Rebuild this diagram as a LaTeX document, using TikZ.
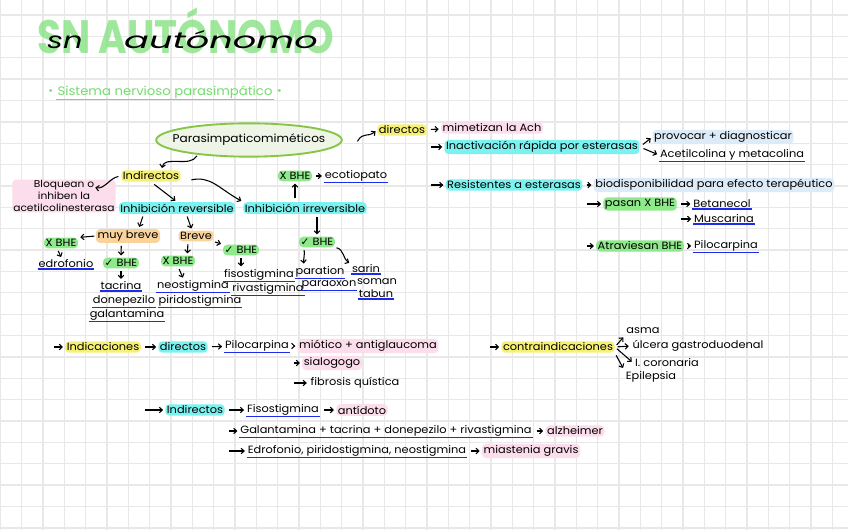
\documentclass[tikz,border=0pt]{standalone}
\usepackage{fontspec}
\setmainfont{Poppins}[FakeStretch=1.08]
\newfontfamily\symfont{DejaVu Sans}
\usepackage{xcolor}
\usetikzlibrary{arrows.meta,positioning,shapes.geometric}

\definecolor{gridgray}{HTML}{E8E8E8}
\definecolor{titlegreen}{HTML}{86E283}
\definecolor{subgreen}{HTML}{74DC6E}
\definecolor{ellborder}{HTML}{86C545}
\definecolor{ellfill}{HTML}{EEF4E6}
\definecolor{hlyellow}{HTML}{F6F174}
\definecolor{hlpink}{HTML}{FCDDEB}
\definecolor{hlcyan}{HTML}{7CF2F0}
\definecolor{hlgreen}{HTML}{8EE98A}
\definecolor{hlorange}{HTML}{F9D39A}
\definecolor{hlblue}{HTML}{DDEBF9}
\definecolor{ulblue}{HTML}{1E2BE8}

\begin{document}
\begin{tikzpicture}[
    x=0.75pt, y=-0.75pt,
    >={Straight Barb[length=2.2pt,width=4.2pt]},
    every node/.style={font=\fontsize{7.9}{9}\selectfont, inner sep=1.2pt},
    hy/.style={fill=hlyellow, rounded corners=3pt},
    hp/.style={fill=hlpink, rounded corners=3pt},
    hc/.style={fill=hlcyan, rounded corners=3pt},
    hg/.style={fill=hlgreen, rounded corners=3pt},
    ho/.style={fill=hlorange, rounded corners=3pt},
    hb/.style={fill=hlblue, rounded corners=3pt},
    ulline/.style={draw=ulblue, line width=1.1pt},
    ul/.style={inner sep=0.6pt, append after command={(\tikzlastnode.south west) edge[ulline] (\tikzlastnode.south east)}},
    arr/.style={->, line width=0.8pt, shorten <=3pt, shorten >=1.5pt},
    gridline/.style={draw=gridgray, line width=1pt}
]

% paper
\fill[white] (0,0) rectangle (848,530);
\useasboundingbox (0,0) rectangle (848,530);
\foreach \i in {0,...,39}
  \draw[gridline] ({0.4+21.33*\i},0) -- ({0.4+21.33*\i},530);
\foreach \j in {0,...,24}
  \draw[gridline] (0,{15+21.37*\j}) -- (848,{15+21.37*\j});

% title
\node[font=\fontsize{27}{27}\selectfont\bfseries, text=titlegreen, opacity=0.8,
yscale=1.3, transform shape] (titlebg) at (186,31) {SN AUTÓNOMO};
\node[font=\fontsize{17}{17}\selectfont\itshape, xscale=1.25, transform shape] (titlesn) at (65,42) {sn};
\node[font=\fontsize{17}{17}\selectfont\itshape, xscale=1.5, transform shape] (titleauto) at (221,40) {autónomo};

\node[font=\fontsize{9.2}{11}\selectfont, text=subgreen, inner sep=0.8pt,
append after command={(\tikzlastnode.south west) edge[draw=subgreen, line width=1pt] (\tikzlastnode.south east)}] (sub) at (165,92) {Sistema nervioso parasimpático};
\node[text=subgreen, left=1pt of sub] (subl) {•};
\node[text=subgreen, right=1pt of sub] (subr) {•};

% main concept
\node[ellipse, draw=ellborder, line width=1.4pt, fill=ellfill,
inner xsep=-8pt, inner ysep=1pt, minimum height=25pt,
font=\fontsize{8.4}{10}\selectfont] (parasim) at (249,140)
{Parasimpaticomiméticos};

% directos
\node[hy] (directos) at (402,130) {directos};
\node[hp] (mimet) at (492,128) {mimetizan la Ach};
\node[hc] (inact) at (542,147) {Inactivación rápida por esterasas};
\node[hb] (provo) at (723,137) {provocar + diagnosticar};
\node[ul] (acetil) at (732,155) {Acetilcolina y metacolina};
\node[hc] (resist) at (514,185) {Resistentes a esterasas};
\node[hb] (biodisp) at (714,185) {biodisponibilidad para efecto terapéutico};
\node[hg] (pasan) at (640,204) {pasan X BHE};
\node[ul] (betan) at (722,204) {Betanecol};
\node[ul] (musc) at (724,219) {Muscarina};
\node[hg] (atrav) at (640,246) {Atraviesan BHE};
\node[ul] (pilo) at (726,246) {Pilocarpina};

\draw[arr, shorten <=0pt] ([xshift=11pt,yshift=-1pt]parasim.east) .. controls +(6,-10) and +(-10,8) .. (directos.west);
\draw[arr] (directos) -- (mimet);
\draw[arr] (directos.east |- inact) -- (inact);
\draw[arr] (inact.east) -- (provo.west);
\draw[arr] (inact.east) -- (acetil.west);
\draw[arr] (directos.east |- resist) -- (resist);
\draw[arr] (resist) -- (biodisp);
\draw[arr] (resist.east |- pasan) -- (pasan);
\draw[arr] (pasan) -- (betan);
\draw[arr] (pasan.east |- musc) -- (musc);
\draw[arr] (resist.east |- atrav) -- (atrav);
\draw[arr] (atrav) -- (pilo);

% indirectos
\node[hy] (indir) at (151,176) {Indirectos};
\node[hp, align=center, inner sep=0.8pt, font=\fontsize{7.4}{8.8}\selectfont] (bloq) at (64,196) {Bloquean o\\inhiben la\\acetilcolinesterasa};
\node[hc] (rev) at (177,208) {Inhibición reversible};
\node[hc] (irrev) at (305,208) {Inhibición irreversible};
\node[hg] (xbhetop) at (295,176) {X BHE};
\node[ul] (ecotio) at (356,176) {ecotiopato};

\draw[arr, shorten <=1pt] (parasim.196) to[out=240, in=80] ([xshift=8pt]indir.north);
\draw[arr, shorten <=2pt] (indir.west) to[out=190, in=-10] ([xshift=-17pt,yshift=-6pt]bloq.north east);
\draw[arr] (indir.south) -- (rev.north);
\draw[arr, shorten <=8pt] (indir.south east) .. controls +(30,-6) and +(-25,-14) .. (irrev.north west);
\draw[arr] (irrev.north -| xbhetop) -- (xbhetop.south);
\draw[arr] (xbhetop) -- (ecotio);

% reversible
\node[ho] (muyb) at (128,236) {muy breve};
\node[ho] (breve) at (196,236) {Breve};
\node[hg] (xbhe1) at (61,243) {X BHE};
\node[ul] (edrof) at (66,264) {edrofonio};
\node[hg] (sibhe1) at (121,263) {{\symfont ✓} BHE};
\node[ul] (tacr) at (121,286) {tacrina};
\node[ul] (donep) at (124,301) {donepezilo};
\node[ul] (galan) at (127,315) {galantamina};
\node[hg] (xbhe2) at (178,261) {X BHE};
\node[ul] (neost) at (193,286) {neostigmina};
\node[ul] (pirid) at (200,301) {piridostigmina};
\node[hg] (sibhe2) at (241,250) {{\symfont ✓} BHE};
\node[ul] (fisost) at (259,275) {fisostigmina};
\node[ul] (rivast) at (268,289) {rivastigmina};

\draw[arr, shorten <=2pt] ([xshift=-25pt]rev.south) -- ([xshift=8pt]muyb.north);
\draw[arr, shorten <=2pt] ([xshift=7pt]rev.south) -- ([xshift=-3pt]breve.north);
\draw[arr, shorten <=1pt] (muyb.west) -- (xbhe1.north east);
\draw[arr, shorten <=2pt] ([xshift=-3pt]xbhe1.south) -- ([xshift=-3pt]edrof.north);
\draw[arr, shorten <=2pt] ([xshift=-5pt]muyb.south) -- (sibhe1.north);
\draw[arr, shorten <=2pt] (sibhe1.south) -- (tacr.north);
\draw[arr, shorten <=2pt] ([xshift=-6pt]breve.south) -- ([xshift=7pt]xbhe2.north);
\draw[arr, shorten <=2pt] (xbhe2.south) -- ([xshift=-7pt]neost.north);
\draw[arr, shorten <=1pt] (breve.south east) -- (sibhe2.north west);
\draw[arr, shorten <=2pt] (sibhe2.south) -- (sibhe2.south |- fisost.north);

% irreversible
\node[hg] (sibhe3) at (317,242) {{\symfont ✓} BHE};
\node[ul] (parat) at (320,272) {paration};
\node[ul] (paraox) at (329,285) {paraoxon};
\node[ul] (sarin) at (366,269) {sarin};
\node (soman) at (377,282) {soman};
\node[ul] (tabun) at (376,294) {tabun};

\draw[arr, shorten <=2pt] ([xshift=9pt]irrev.south) -- (sibhe3.north);
\draw[arr, shorten <=2pt] ([xshift=-10pt]sibhe3.south) to[out=-80, in=95] ([xshift=-12pt]parat.north);
\draw[arr, shorten <=1pt] (sibhe3.south east) to[out=-10, in=150] (sarin.north west);

% indicaciones
\coordinate (indstart) at (50,347);
\node[hy] (indic) at (103,347) {Indicaciones};
\node[hc] (dir2) at (183,347) {directos};
\node[ul] (pilo2) at (257,346) {Pilocarpina};
\node[hp] (miot) at (368,346) {miótico + antiglaucoma};
\node[hp] (sial) at (332,363) {sialogogo};
\node (fibro) at (355,383) {fibrosis quística};
\node[hc] (indir2) at (195,410) {Indirectos};
\node[ul] (fisost2) at (283,410) {Fisostigmina};
\node[hp] (antid) at (362,410) {antídoto};
\node[ul] (gala2) at (386,431) {Galantamina + tacrina + donepezilo + rivastigmina};
\node[hp] (alzh) at (575,431) {alzheimer};
\node[ul] (edro2) at (357,451) {Edrofonio, piridostigmina, neostigmina};
\node[hp] (miast) at (531,451) {miastenia gravis};

\draw[arr] (indstart) -- (indic);
\draw[arr] (indic) -- (dir2);
\draw[arr] (dir2) -- (pilo2);
\draw[arr] (pilo2) -- (miot);
\draw[arr] (pilo2.east |- sial) -- (sial);
\draw[arr] (pilo2.east |- fibro) -- (fibro);
\draw[arr] (indic.east |- indir2) -- (indir2);
\draw[arr] (indir2) -- (fisost2);
\draw[arr] (fisost2) -- (antid);
\draw[arr] (indir2.east |- gala2) -- (gala2);
\draw[arr] (gala2) -- (alzh);
\draw[arr] (indir2.east |- edro2) -- (edro2);
\draw[arr] (edro2) -- (miast);

% contraindicaciones
\coordinate (contrastart) at (486,347);
\node[hy] (contra) at (558,347) {contraindicaciones};
\node (asma) at (643,331) {asma};
\node (ulcera) at (698,346) {úlcera gastroduodenal};
\node (icoro) at (667,363) {I. coronaria};
\node (epil) at (651,377) {Epilepsia};

\draw[arr] (contrastart) -- (contra);
\draw[arr, shorten <=2pt] (contra.east) -- (asma.south west);
\draw[arr, shorten <=2pt] (contra.east) -- (ulcera.west);
\draw[arr, shorten <=2pt] (contra.east) -- (icoro.west);
\draw[arr, shorten <=2pt] (contra.south east) -- (epil.north west);

\end{tikzpicture}
\end{document}
